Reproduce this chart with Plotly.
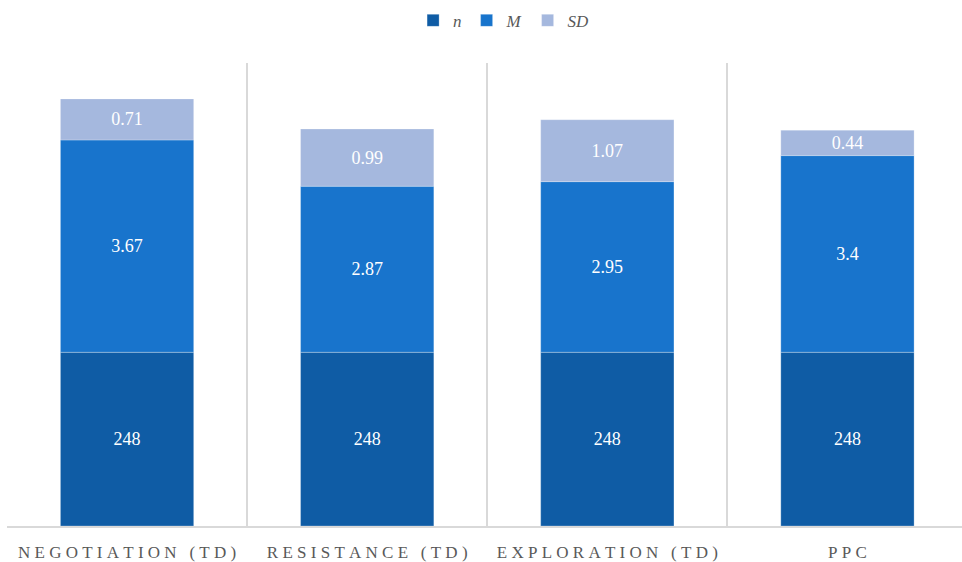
import plotly.graph_objects as go

categories = ["NEGOTIATION (TD)", "RESISTANCE (TD)", "EXPLORATION (TD)", "PPC"]
n_vals = [248, 248, 248, 248]
m_vals = [3.67, 2.87, 2.95, 3.4]
sd_vals = [0.71, 0.99, 1.07, 0.44]

Y_MAX = 8.0          # primary axis (M, SD)
N_SHARE = 3.0        # n segment drawn to this height in primary-axis units
Y2_MAX = max(n_vals) * Y_MAX / N_SHARE

def spaced(s):
    return "\u2005".join(list(s))

tick_text = [spaced(c) for c in categories]

C_N = "#0F5CA5"
C_M = "#1874CC"
C_SD = "#A5B8DE"
FONT = "Liberation Serif"

base_m = [n / Y2_MAX * Y_MAX for n in n_vals]
base_sd = [b + m for b, m in zip(base_m, m_vals)]

common = dict(textposition="inside", insidetextanchor="middle",
              textfont=dict(color="white", size=18, family=FONT), width=0.555)
edge = dict(color="rgba(255,255,255,0.5)", width=0.5)

fig = go.Figure()
fig.add_bar(x=categories, y=n_vals, name="n", yaxis="y2",
            marker=dict(color=C_N, line=edge),
            text=[str(v) for v in n_vals], **common)
fig.add_bar(x=categories, y=m_vals, base=base_m, name="M",
            marker=dict(color=C_M, line=edge),
            text=[str(v) for v in m_vals], **common)
fig.add_bar(x=categories, y=sd_vals, base=base_sd, name="SD",
            marker=dict(color=C_SD, line=edge),
            text=[str(v) for v in sd_vals], **common)

fig.update_layout(
    width=962, height=562,
    margin=dict(l=7, r=0, t=63, b=32),
    paper_bgcolor="white", plot_bgcolor="white",
    barmode="overlay",
    font=dict(family=FONT, size=16, color="#595959"),
    uniformtext=dict(minsize=18, mode="show"),
    showlegend=True,
    legend=dict(orientation="h", x=0.52, xanchor="center", y=0.995, yanchor="top",
                yref="container", font=dict(family=FONT, size=17, color="#595959", style="italic"),
                itemwidth=30, tracegroupgap=0),
    xaxis=dict(
        type="category", range=[-0.5, 3.477],
        tickmode="array", tickvals=categories, ticktext=tick_text,
        tickson="boundaries", ticks="", showgrid=True, gridcolor="#D9D9D9", gridwidth=1.5,
        showline=True, linecolor="#D9D9D9", linewidth=1.5,
        tickfont=dict(family=FONT, size=17, color="#595959"), ticklabelstandoff=10,
    ),
    yaxis=dict(range=[0, Y_MAX], visible=False, showgrid=False),
    yaxis2=dict(range=[0, Y2_MAX], visible=False, overlaying="y", showgrid=False),
)

fig.write_html("out.html")
